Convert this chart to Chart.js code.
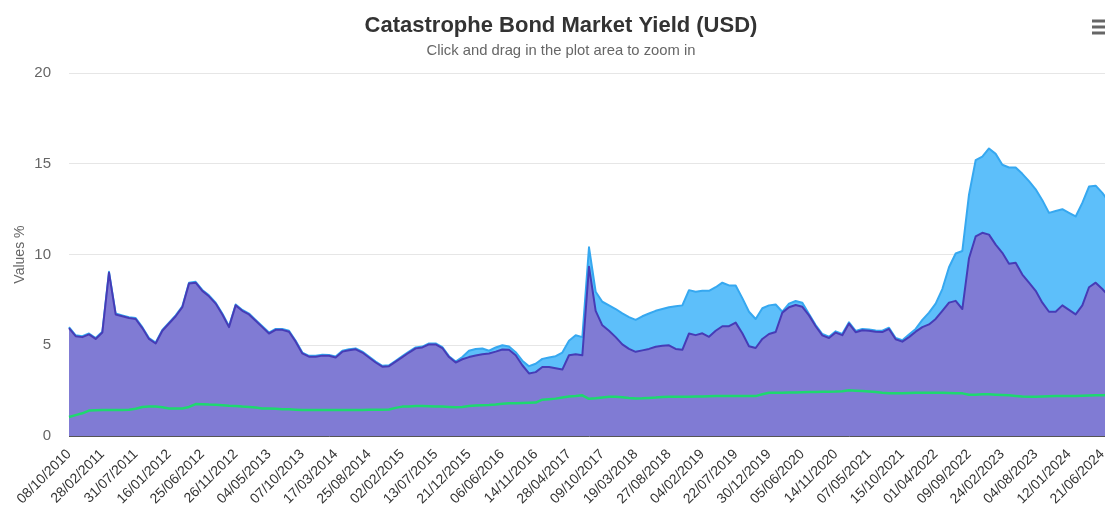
<!DOCTYPE html>
<html>
<head>
<meta charset="utf-8">
<title>Catastrophe Bond Market Yield (USD)</title>
<script src="https://cdn.jsdelivr.net/npm/chart.js@4.4.0/dist/chart.umd.min.js"></script>
<style>
  html, body { margin: 0; padding: 0; background: #fff; overflow: hidden; }
  #wrap { width: 1125px; height: 515px; }
</style>
</head>
<body>
<div id="wrap"><canvas id="graficoYield" width="1125" height="515"></canvas></div>
<script>
// Fechas que se muestran en el eje X (una cada 5 puntos)
const dateLabels = [
  '08/10/2010', '28/02/2011', '31/07/2011', '16/01/2012', '25/06/2012', '26/11/2012',
  '04/05/2013', '07/10/2013', '17/03/2014', '25/08/2014', '02/02/2015', '13/07/2015',
  '21/12/2015', '06/06/2016', '14/11/2016', '28/04/2017', '09/10/2017', '19/03/2018',
  '27/08/2018', '04/02/2019', '22/07/2019', '30/12/2019', '05/06/2020', '14/11/2020',
  '07/05/2021', '15/10/2021', '01/04/2022', '09/09/2022', '24/02/2023', '04/08/2023',
  '12/01/2024', '21/06/2024'
];
const pointsPerLabel = 5;

// Serie superior (azul claro)
const upperYield = [
  6.0, 5.55, 5.5, 5.65, 5.4, 5.75, 9.05, 6.75, 6.65, 6.55,
  6.5, 6.0, 5.4, 5.15, 5.85, 6.25, 6.65, 7.15, 8.45, 8.5,
  8.05, 7.75, 7.35, 6.75, 6.05, 7.25, 6.95, 6.75, 6.4, 6.05,
  5.7, 5.9, 5.9, 5.8, 5.25, 4.6, 4.42, 4.42, 4.48, 4.47,
  4.38, 4.7, 4.78, 4.83, 4.65, 4.38, 4.1, 3.87, 3.9, 4.15,
  4.4, 4.65, 4.88, 4.93, 5.1, 5.1, 4.9, 4.4, 4.1, 4.35,
  4.7, 4.8, 4.82, 4.7, 4.88, 5.0, 4.93, 4.62, 4.15, 3.85,
  3.98, 4.25, 4.33, 4.4, 4.6, 5.25, 5.55, 5.45, 10.4, 7.95,
  7.4, 7.2, 7.0, 6.76, 6.55, 6.4, 6.6, 6.75, 6.9, 7.0,
  7.1, 7.15, 7.2, 8.04, 7.95, 8.0, 8.0, 8.2, 8.45, 8.3,
  8.3, 7.6, 6.85, 6.45, 7.04, 7.2, 7.25, 6.85, 7.3, 7.44,
  7.35, 6.72, 6.12, 5.62, 5.47, 5.77, 5.63, 6.27, 5.79, 5.9,
  5.87, 5.82, 5.8, 5.97, 5.4, 5.28, 5.6, 5.9, 6.4, 6.8,
  7.3, 8.1, 9.3, 10.06, 10.2, 13.3, 15.2, 15.4, 15.85, 15.55,
  14.95, 14.8, 14.8, 14.45, 14.05, 13.6, 13.0, 12.3, 12.4, 12.5,
  12.3, 12.1, 12.85, 13.75, 13.8, 13.4, 12.9
];

// Serie intermedia (morado)
const lowerYield = [
  5.95, 5.5, 5.45, 5.6, 5.35, 5.7, 9.0, 6.7, 6.6, 6.5,
  6.45, 5.95, 5.35, 5.1, 5.8, 6.2, 6.6, 7.1, 8.4, 8.45,
  8.0, 7.7, 7.3, 6.7, 6.0, 7.2, 6.9, 6.7, 6.35, 6.0,
  5.65, 5.85, 5.85, 5.75, 5.2, 4.55, 4.37, 4.37, 4.43, 4.42,
  4.33, 4.65, 4.73, 4.78, 4.6, 4.33, 4.05, 3.82, 3.85, 4.1,
  4.35, 4.6, 4.83, 4.88, 5.05, 5.05, 4.85, 4.35, 4.05, 4.23,
  4.35, 4.44, 4.5, 4.55, 4.65, 4.77, 4.75, 4.45, 3.9, 3.45,
  3.52, 3.8, 3.8, 3.73, 3.66, 4.45, 4.5, 4.45, 9.33, 6.9,
  6.1, 5.8, 5.45, 5.05, 4.8, 4.64, 4.72, 4.8, 4.92, 4.97,
  5.0, 4.8, 4.75, 5.65, 5.56, 5.66, 5.47, 5.8, 6.05, 6.05,
  6.25, 5.66, 4.95, 4.85, 5.35, 5.62, 5.73, 6.8, 7.1, 7.22,
  7.12, 6.65, 6.05, 5.55, 5.4, 5.7, 5.56, 6.2, 5.72, 5.83,
  5.8, 5.75, 5.73, 5.9, 5.33, 5.2, 5.45, 5.75, 6.0, 6.15,
  6.45, 6.9, 7.35, 7.45, 7.0, 9.8, 11.0, 11.2, 11.1, 10.55,
  10.1, 9.5, 9.55, 8.9, 8.45, 8.0, 7.35, 6.85, 6.85, 7.2,
  6.95, 6.7, 7.2, 8.2, 8.45, 8.1, 7.7
];

// Serie base (linea verde)
const baseYield = [
  1.05, 1.15, 1.25, 1.4, 1.42, 1.43, 1.43, 1.43, 1.43, 1.45,
  1.5, 1.6, 1.62, 1.62, 1.58, 1.52, 1.52, 1.52, 1.6, 1.76,
  1.75, 1.73, 1.72, 1.7, 1.67, 1.65, 1.62, 1.6, 1.57, 1.52,
  1.52, 1.5, 1.48, 1.47, 1.45, 1.43, 1.43, 1.43, 1.43, 1.43,
  1.43, 1.43, 1.43, 1.44, 1.44, 1.45, 1.45, 1.45, 1.46, 1.55,
  1.62, 1.63, 1.65, 1.65, 1.64, 1.63, 1.62, 1.6, 1.58, 1.6,
  1.65, 1.68, 1.7, 1.71, 1.74, 1.78, 1.8, 1.81, 1.82, 1.83,
  1.84, 2.0, 2.03, 2.06, 2.12, 2.18, 2.2, 2.24, 2.05, 2.08,
  2.12, 2.16, 2.17, 2.14, 2.1, 2.07, 2.08, 2.1, 2.12, 2.15,
  2.17, 2.17, 2.17, 2.17, 2.18, 2.18, 2.19, 2.2, 2.2, 2.2,
  2.2, 2.2, 2.2, 2.2, 2.3, 2.38, 2.39, 2.39, 2.4, 2.4,
  2.41, 2.42, 2.43, 2.44, 2.44, 2.45, 2.47, 2.52, 2.5, 2.48,
  2.45, 2.42, 2.38, 2.36, 2.35, 2.36, 2.37, 2.38, 2.38, 2.39,
  2.39, 2.38, 2.37, 2.36, 2.35, 2.27, 2.28, 2.3, 2.3, 2.28,
  2.26, 2.24, 2.21, 2.18, 2.17, 2.17, 2.18, 2.19, 2.2, 2.2,
  2.2, 2.21, 2.22, 2.23, 2.24, 2.25, 2.26
];

const yTicks = [0, 5, 10, 15, 20];

// Categorias: la fecha cada pointsPerLabel puntos, vacio en el resto
const categories = lowerYield.map((v, i) =>
  i % pointsPerLabel === 0 ? (dateLabels[i / pointsPerLabel] || '') : ''
);

const FONT = "'Liberation Sans', Arial, Helvetica, sans-serif";

// Icono de menu (hamburguesa) arriba a la derecha
const menuIcon = {
  id: 'menuIcon',
  afterDraw(chart) {
    const ctx = chart.ctx;
    ctx.save();
    ctx.strokeStyle = '#666666';
    ctx.lineWidth = 3;
    [21, 27, 33].forEach(y => {
      ctx.beginPath();
      ctx.moveTo(1092, y);
      ctx.lineTo(1110, y);
      ctx.stroke();
    });
    ctx.restore();
  }
};

const ctxYield = document.getElementById('graficoYield');
new Chart(ctxYield, {
  type: 'line',
  data: {
    labels: categories,
    datasets: [
      {
        label: 'Base',
        data: baseYield,
        borderColor: '#1ed86f',
        borderWidth: 2.5,
        fill: false,
        pointRadius: 0
      },
      {
        label: 'Lower',
        data: lowerYield,
        borderColor: '#463cb6',
        backgroundColor: '#807bd4',
        borderWidth: 2,
        fill: 'origin',
        pointRadius: 0
      },
      {
        label: 'Upper',
        data: upperYield,
        borderColor: '#36a8f0',
        backgroundColor: '#5dbffa',
        borderWidth: 2,
        fill: 'origin',
        pointRadius: 0
      }
    ]
  },
  options: {
    responsive: false,
    devicePixelRatio: 1,
    animation: false,
    layout: { padding: { left: 13, right: 16, top: 0, bottom: 0 } },
    elements: { line: { tension: 0, borderJoinStyle: 'round' } },
    plugins: {
      legend: { display: false },
      tooltip: { enabled: false },
      title: {
        display: true,
        text: 'Catastrophe Bond Market Yield (USD)',
        color: '#333333',
        font: { family: FONT, size: 22, weight: 'bold' },
        padding: { top: 13, bottom: 0 }
      },
      subtitle: {
        display: true,
        text: 'Click and drag in the plot area to zoom in',
        color: '#666666',
        font: { family: FONT, size: 14.8 },
        padding: { top: 3, bottom: 13 }
      }
    },
    scales: {
      x: {
        type: 'category',
        offset: false,
        grid: { display: false, drawTicks: false },
        border: { display: true, color: '#555555', width: 1 },
        ticks: {
          autoSkip: false,
          minRotation: 45,
          maxRotation: 45,
          padding: 10,
          color: '#333333',
          font: { family: FONT, size: 14 },
          callback: function (val, idx) {
            const lbl = this.getLabelForValue(val);
            return lbl === '' ? null : lbl;
          }
        },
        afterFit: function (scale) { scale.height = 79; }
      },
      y: {
        min: 0,
        max: 20,
        grid: { color: '#e6e6e6', lineWidth: 1, drawTicks: false },
        border: { display: false },
        afterBuildTicks: function (scale) {
          scale.ticks = yTicks.map(v => ({ value: v }));
        },
        ticks: {
          padding: 18,
          color: '#666666',
          font: { family: FONT, size: 15 }
        },
        title: {
          display: true,
          text: 'Values %',
          color: '#666666',
          font: { family: FONT, size: 14, lineHeight: 1.0 },
          padding: { top: 0, bottom: 0 }
        },
        afterFit: function (scale) { scale.width = 56; }
      }
    }
  },
  plugins: [menuIcon]
});
</script>
</body>
</html>
